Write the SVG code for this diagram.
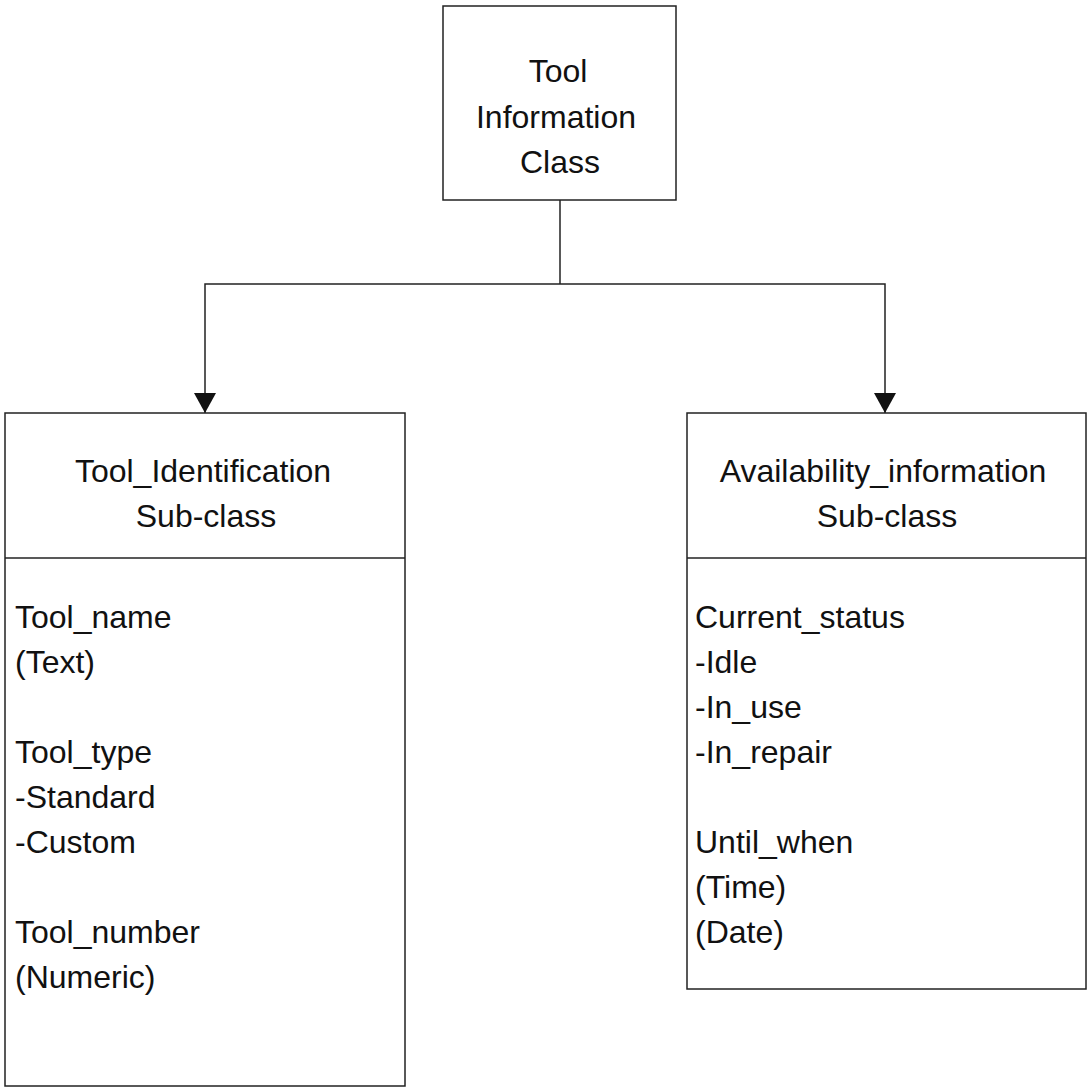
<svg xmlns="http://www.w3.org/2000/svg" width="1088" height="1089" viewBox="0 0 1088 1089">
<style>
.box{fill:#fff;stroke:#222;stroke-width:1.5}
.ln{fill:none;stroke:#222;stroke-width:1.5}
text{font-family:"Liberation Sans",Arial,sans-serif;font-size:32px;fill:#111}
.c{text-anchor:middle}
</style>
<defs>
<marker id="arr" markerWidth="22" markerHeight="22" viewBox="0 0 20 22" refX="20" refY="11" orient="auto" markerUnits="userSpaceOnUse">
<path d="M0,0 L20,11 L0,22 Z" fill="#111"/>
</marker>
</defs>
<rect width="1088" height="1089" fill="#fff"/>
<g id="connectors">
<path class="ln" d="M560,200 V284"/>
<path class="ln" d="M560,284 H205 V413" marker-end="url(#arr)"/>
<path class="ln" d="M560,284 H885 V413" marker-end="url(#arr)"/>
</g>
<g id="tool-information-class">
<rect class="box" x="443" y="6" width="233" height="194"/>
<text class="c" x="558" y="82">Tool</text>
<text class="c" x="556" y="128">Information</text>
<text class="c" x="560" y="173">Class</text>
</g>
<g id="tool-identification">
<rect class="box" x="5" y="413" width="400" height="673"/>
<line class="ln" x1="5" y1="558" x2="405" y2="558"/>
<text class="c" x="203" y="482">Tool_Identification</text>
<text class="c" x="206" y="527">Sub-class</text>
<text x="15" y="628">Tool_name</text>
<text x="15" y="673">(Text)</text>
<text x="15" y="763">Tool_type</text>
<text x="15" y="808">-Standard</text>
<text x="15" y="853">-Custom</text>
<text x="15" y="943">Tool_number</text>
<text x="15" y="988">(Numeric)</text>
</g>
<g id="availability-information">
<rect class="box" x="687" y="413" width="399" height="576"/>
<line class="ln" x1="687" y1="558" x2="1086" y2="558"/>
<text class="c" x="883" y="482">Availability_information</text>
<text class="c" x="887" y="527">Sub-class</text>
<text x="695" y="628">Current_status</text>
<text x="695" y="673">-Idle</text>
<text x="695" y="718">-In_use</text>
<text x="695" y="763">-In_repair</text>
<text x="695" y="853">Until_when</text>
<text x="695" y="898">(Time)</text>
<text x="695" y="943">(Date)</text>
</g>
</svg>
